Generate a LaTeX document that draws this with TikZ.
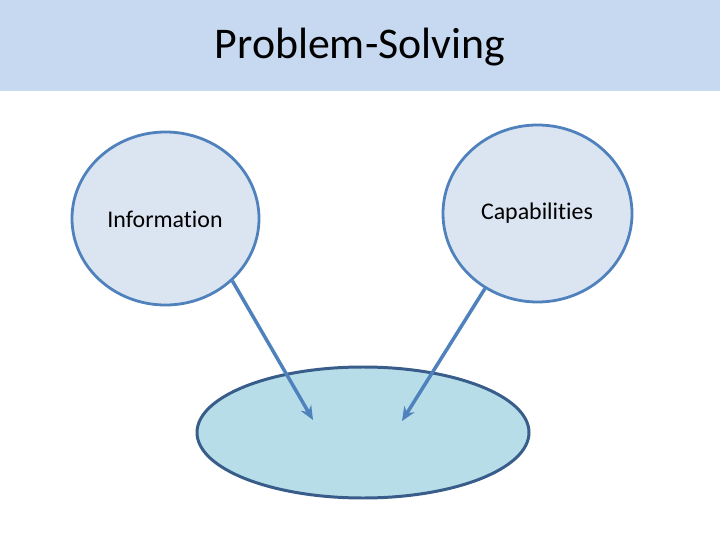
\documentclass[tikz,border=0pt]{standalone}
\usepackage{fontspec}
\setmainfont{Carlito}[RawFeature={-liga;-clig;-dlig}]
\usetikzlibrary{arrows.meta,shapes.geometric}
\definecolor{bandfill}{HTML}{C6D9F1}
\definecolor{circfill}{HTML}{DBE5F1}
\definecolor{circline}{HTML}{4F81BD}
\definecolor{ellfill}{HTML}{B7DDE8}
\definecolor{ellline}{HTML}{385D8A}
\tikzset{
  bubble/.style={ellipse, draw=circline, line width=2.8pt, fill=circfill, inner sep=0pt},
  target/.style={ellipse, draw=ellline, line width=3pt, fill=ellfill, inner sep=0pt},
  label/.style={font=\fontsize{24}{28}\selectfont},
  link/.style={draw=circline, line width=3.5pt, -{Stealth[length=14pt,width=12pt]}}
}
\begin{document}
\begin{tikzpicture}[x=1bp,y=-1bp]
\useasboundingbox (0,0) rectangle (720,540);
\fill[white] (0,0) rectangle (720,540);
\node[fill=bandfill, minimum width=720bp, minimum height=91bp, inner sep=0pt, anchor=north west] (band) at (0,0) {};
\node[font=\fontsize{44}{52}\selectfont] (title) at (360,47) {Problem-Solving};
\node[bubble, minimum width=187bp, minimum height=173bp] (info) at (165.5,218.5) {};
\node[label] (infot) at (165,219) {Information};
\node[bubble, minimum width=189bp, minimum height=177bp] (cap) at (537.5,213.5) {};
\node[label] (capt) at (537,213) {Capabilities};
\node[target, minimum width=332bp, minimum height=131bp] (goal) at (363,432.5) {};
\coordinate (tipL) at (313,420);
\coordinate (tipR) at (402,421);
\draw[link] (info.-43.6) -- (tipL);
\draw[link] (cap.-125.4) -- (tipR);
\end{tikzpicture}
\end{document}
